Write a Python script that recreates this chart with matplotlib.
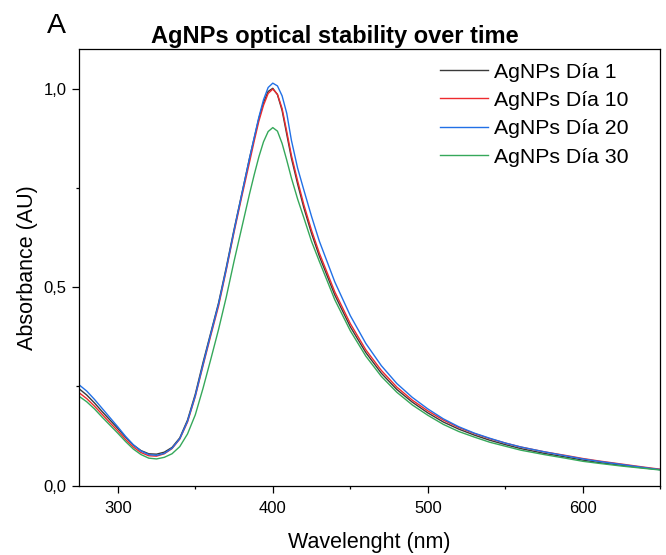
import matplotlib
matplotlib.use("Agg")
import matplotlib.pyplot as plt
from matplotlib.ticker import FixedLocator, FuncFormatter

plt.rcParams["font.family"] = ["Liberation Sans", "DejaVu Sans"]

# longitud de onda (nm)
wavelength = [275, 280, 285, 290, 295, 300, 305, 310, 315, 320, 325, 330, 335,
              340, 345, 350, 355, 360, 365, 370, 375, 380,
              385, 388, 391, 394, 397, 400, 403, 406, 409, 412, 416, 420, 425, 430,
              440, 450, 460, 470, 480, 490, 500, 510, 520, 530, 540, 550, 560,
              575, 590, 600, 610, 625, 640, 650]

dia_1 = [0.244, 0.228, 0.208, 0.186, 0.165, 0.144, 0.122, 0.102, 0.088, 0.080, 0.079, 0.084, 0.096,
         0.120, 0.165, 0.230, 0.310, 0.385, 0.460, 0.550, 0.645, 0.735,
         0.825, 0.875, 0.925, 0.965, 0.993, 1.001, 0.985, 0.945, 0.885, 0.825, 0.760, 0.700, 0.635, 0.578,
         0.480, 0.400, 0.335, 0.283, 0.242, 0.210, 0.183, 0.160, 0.142, 0.127, 0.114, 0.103, 0.093,
         0.081, 0.071, 0.064, 0.058, 0.051, 0.044, 0.040]

dia_10 = [0.234, 0.219, 0.200, 0.179, 0.158, 0.138, 0.116, 0.097, 0.083, 0.075, 0.074, 0.080, 0.093,
          0.117, 0.160, 0.224, 0.302, 0.378, 0.452, 0.543, 0.638, 0.728,
          0.815, 0.868, 0.918, 0.958, 0.988, 0.999, 0.986, 0.950, 0.892, 0.832, 0.768, 0.708, 0.643, 0.586,
          0.488, 0.408, 0.342, 0.290, 0.248, 0.215, 0.188, 0.165, 0.146, 0.131, 0.118, 0.107, 0.097,
          0.085, 0.075, 0.068, 0.062, 0.054, 0.046, 0.041]

dia_20 = [0.254, 0.238, 0.217, 0.194, 0.171, 0.148, 0.124, 0.103, 0.087, 0.078, 0.076, 0.081, 0.094,
          0.118, 0.162, 0.226, 0.305, 0.382, 0.457, 0.546, 0.642, 0.734,
          0.825, 0.877, 0.928, 0.972, 1.003, 1.014, 1.007, 0.982, 0.938, 0.870, 0.800, 0.745, 0.678, 0.616,
          0.513, 0.428, 0.358, 0.302, 0.257, 0.222, 0.193, 0.168, 0.148, 0.132, 0.119, 0.107, 0.097,
          0.085, 0.074, 0.067, 0.061, 0.053, 0.045, 0.040]

dia_30 = [0.225, 0.211, 0.193, 0.172, 0.152, 0.132, 0.111, 0.092, 0.078, 0.069, 0.067, 0.071, 0.080,
          0.098, 0.130, 0.178, 0.245, 0.318, 0.393, 0.475, 0.565, 0.650,
          0.735, 0.783, 0.828, 0.866, 0.892, 0.902, 0.893, 0.862, 0.820, 0.775, 0.722, 0.675, 0.615, 0.565,
          0.468, 0.390, 0.326, 0.275, 0.235, 0.203, 0.177, 0.154, 0.136, 0.122, 0.109, 0.099, 0.089,
          0.078, 0.068, 0.061, 0.056, 0.049, 0.043, 0.039]

series = [
    ("AgNPs Día 1", dia_1, "#3a3a3a"),
    ("AgNPs Día 10", dia_10, "#ee2a2e"),
    ("AgNPs Día 20", dia_20, "#2170e6"),
    ("AgNPs Día 30", dia_30, "#35a85a"),
]

x_major = [300, 400, 500, 600]
x_minor = [350, 450, 550, 650]
y_major = [0.0, 0.5, 1.0]
y_minor = [0.25, 0.75]

fig = plt.figure(figsize=(6.66, 5.55), dpi=100)
ax = fig.add_axes([0.1186, 0.1252, 0.873, 0.7865])

for label, values, color in series:
    ax.plot(wavelength, values, color=color, linewidth=1.0, label=label)

ax.set_xlim(275, 650)
ax.set_ylim(0, 1.1)
ax.xaxis.set_major_locator(FixedLocator(x_major))
ax.xaxis.set_minor_locator(FixedLocator(x_minor))
ax.yaxis.set_major_locator(FixedLocator(y_major))
ax.yaxis.set_minor_locator(FixedLocator(y_minor))
ax.yaxis.set_major_formatter(FuncFormatter(lambda v, _: f"{v:.1f}".replace(".", ",")))

ax.tick_params(which="major", direction="out", length=5, width=0.9, labelsize=12)
ax.tick_params(which="minor", direction="out", length=2.5, width=0.9)
ax.tick_params(axis="x", which="major", pad=6)
ax.tick_params(axis="y", which="major", pad=4)
for sp in ax.spines.values():
    sp.set_linewidth(0.9)

ax.set_xlabel("Wavelenght (nm)", fontsize=15.5, labelpad=12)
ax.set_ylabel("Absorbance (AU)", fontsize=15.5, labelpad=4)

fig.text(334.5 / 666, 1 - 42.7 / 555, "AgNPs optical stability over time",
         fontsize=17, fontweight="bold", ha="center", va="baseline")
fig.text(47 / 666, 1 - 33 / 555, "A", fontsize=20.5, ha="left", va="baseline")

ax.legend(loc="upper left", bbox_to_anchor=(440 / 666, 1 - 62.5 / 555),
          bbox_transform=fig.transFigure, frameon=False, fontsize=15.3,
          handlelength=2.25, handletextpad=0.28, labelspacing=0.44,
          borderpad=0, borderaxespad=0)

fig.savefig("out.png", dpi=100)
